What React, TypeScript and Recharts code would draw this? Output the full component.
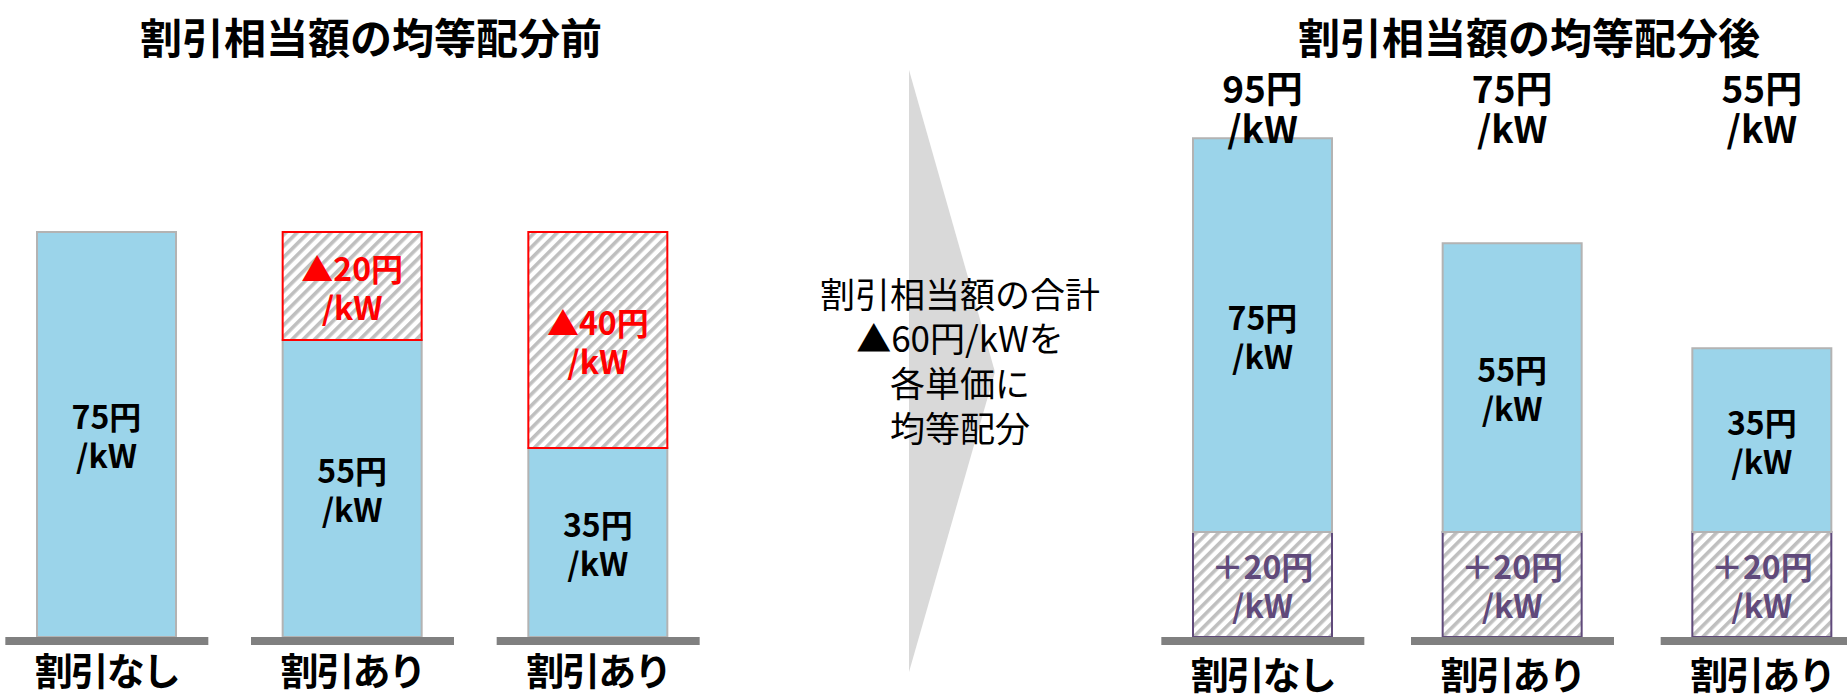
import React from 'react';
import { BarChart, Bar, XAxis, YAxis, LabelList } from 'recharts';

// ---- data ----
const categories = ['割引なし', '割引あり', '割引あり'];
const beforeBase = [75, 55, 35];
const beforeDiscount: (number | null)[] = [null, 20, 40];
const afterAdded = [20, 20, 20];
const afterBase = [75, 55, 35];
const unitText = '円';
const perKw = '/kW';
const discountPrefix = '▲';
const addPrefix = '＋';
const titleBefore = '割引相当額の均等配分前';
const titleAfter = '割引相当額の均等配分後';
const arrowText = ['割引相当額の合計', '▲60円/kWを', '各単価に', '均等配分'];
const yDomain = [0, 100];

const beforeData = categories.map((c, i) => ({
  id: `c${i}`,
  name: c,
  base: beforeBase[i],
  discount: beforeDiscount[i],
}));
const afterData = categories.map((c, i) => ({
  id: `c${i}`,
  name: c,
  added: afterAdded[i],
  base: afterBase[i],
  total: afterAdded[i] + afterBase[i],
}));

// ---- styles ----
const FONT = '"Noto Sans CJK JP", "Noto Sans", sans-serif';
const BLUE = '#9BD4EA';
const BAR_STROKE = '#b3b3b3';
const RED = '#ff0000';
const PURPLE = '#604A7B';
const BASE_GRAY = '#808080';

const makeInside = (prefix: string, color: string, size: number, gap: number) => (props: any) => {
  const { x, y, width, height, value } = props;
  if (value == null || !height) return null;
  const cx = Number(x) + Number(width) / 2;
  const cy = Number(y) + Number(height) / 2;
  return (
    <g>
      <text x={cx} y={cy - gap / 2} textAnchor="middle" dominantBaseline="central" fill={color}
        fontSize={size} fontWeight="bold" fontFamily={FONT}>{`${prefix}${value}${unitText}`}</text>
      <text x={cx} y={cy + gap / 2} textAnchor="middle" dominantBaseline="central" fill={color}
        fontSize={size} fontWeight="bold" fontFamily={FONT}>{perKw}</text>
    </g>
  );
};

// total labels sit in a row above the chart area
const TOP_ROW_Y = 87;
const topLabel = (props: any) => {
  const { x, width, value } = props;
  if (value == null) return null;
  const cx = Number(x) + Number(width) / 2;
  return (
    <g>
      <text x={cx} y={TOP_ROW_Y} textAnchor="middle" dominantBaseline="central" fill="#000"
        fontSize={37} fontWeight="bold" fontFamily={FONT}>{`${value}${unitText}`}</text>
      <text x={cx} y={TOP_ROW_Y + 40} textAnchor="middle" dominantBaseline="central" fill="#000"
        fontSize={37} fontWeight="bold" fontFamily={FONT}>{perKw}</text>
    </g>
  );
};

const makeTick = (labelDy: number) => (props: any) => {
  const { x, y, index } = props;
  return (
    <g>
      <rect x={x - 101.5} y={y} width={203} height={8} fill={BASE_GRAY} />
      <text x={x} y={y + labelDy} textAnchor="middle" dominantBaseline="central" fill="#000"
        fontSize={38} fontWeight="bold" fontFamily={FONT} letterSpacing={-2}>{categories[index]}</text>
    </g>
  );
};

const hatch = (id: string) => (
  <defs>
    <pattern id={id} patternUnits="userSpaceOnUse" width={8} height={8} patternTransform="rotate(45)">
      <rect width={8} height={8} fill="#ffffff" />
      <rect width={3.6} height={8} fill="#bfbfbf" />
    </pattern>
  </defs>
);

export default function App() {
  return (
    <div style={{ position: 'relative', width: 1847, height: 694, overflow: 'hidden', background: '#fff' }}>
      <style>{'body{margin:0;}'}</style>

      {/* titles */}
      <div style={{ position: 'absolute', left: 71, width: 600, top: 10, textAlign: 'center', fontFamily: FONT, fontWeight: 'bold', fontSize: 42, lineHeight: '52px', color: '#000' }}>{titleBefore}</div>
      <div style={{ position: 'absolute', left: 1229, width: 600, top: 10, textAlign: 'center', fontFamily: FONT, fontWeight: 'bold', fontSize: 42, lineHeight: '52px', color: '#000' }}>{titleAfter}</div>

      {/* middle arrow */}
      <svg style={{ position: 'absolute', left: 0, top: 0 }} width={1847} height={694}>
        <polygon points="909,70 995,372 909,672" fill="#d9d9d9" />
        {arrowText.map((t, i) => (
          <text key={i} x={960} y={292 + i * 44.7} textAnchor="middle" dominantBaseline="central"
            fontSize={35} fontFamily={FONT} fill="#000">{t}</text>
        ))}
      </svg>

      {/* before chart */}
      <div style={{ position: 'absolute', left: -16, top: 0 }}>
        <BarChart width={737} height={694} data={beforeData} margin={{ top: 97, right: 0, bottom: 0, left: 0 }} barSize={139}>
          {hatch('hatchL')}
          <XAxis dataKey="id" axisLine={false} tickLine={false} tickSize={0} tickMargin={0} height={57} interval={0} tick={makeTick(31)} />
          <YAxis hide domain={yDomain} />
          <Bar dataKey="base" stackId="s" fill={BLUE} stroke={BAR_STROKE} strokeWidth={2} isAnimationActive={false}>
            <LabelList dataKey="base" content={makeInside('', '#000', 32, 39)} />
          </Bar>
          <Bar dataKey="discount" stackId="s" fill="url(#hatchL)" stroke={RED} strokeWidth={2} isAnimationActive={false}>
            <LabelList dataKey="discount" content={makeInside(discountPrefix, RED, 32, 39)} />
          </Bar>
        </BarChart>
      </div>

      {/* after chart */}
      <div style={{ position: 'absolute', left: 1138, top: 0 }}>
        <BarChart width={749} height={694} data={afterData} margin={{ top: 112, right: 0, bottom: 0, left: 0 }} barSize={139}>
          {hatch('hatchR')}
          <XAxis dataKey="id" axisLine={false} tickLine={false} tickSize={0} tickMargin={0} height={57} interval={0} tick={makeTick(35)} />
          <YAxis hide domain={yDomain} />
          <Bar dataKey="added" stackId="s" fill="url(#hatchR)" stroke={PURPLE} strokeWidth={2} isAnimationActive={false}>
            <LabelList dataKey="added" content={makeInside(addPrefix, PURPLE, 32, 39)} />
          </Bar>
          <Bar dataKey="base" stackId="s" fill={BLUE} stroke={BAR_STROKE} strokeWidth={2} isAnimationActive={false}>
            <LabelList dataKey="base" content={makeInside('', '#000', 32, 39)} />
            <LabelList dataKey="total" content={topLabel} />
          </Bar>
        </BarChart>
      </div>
    </div>
  );
}
